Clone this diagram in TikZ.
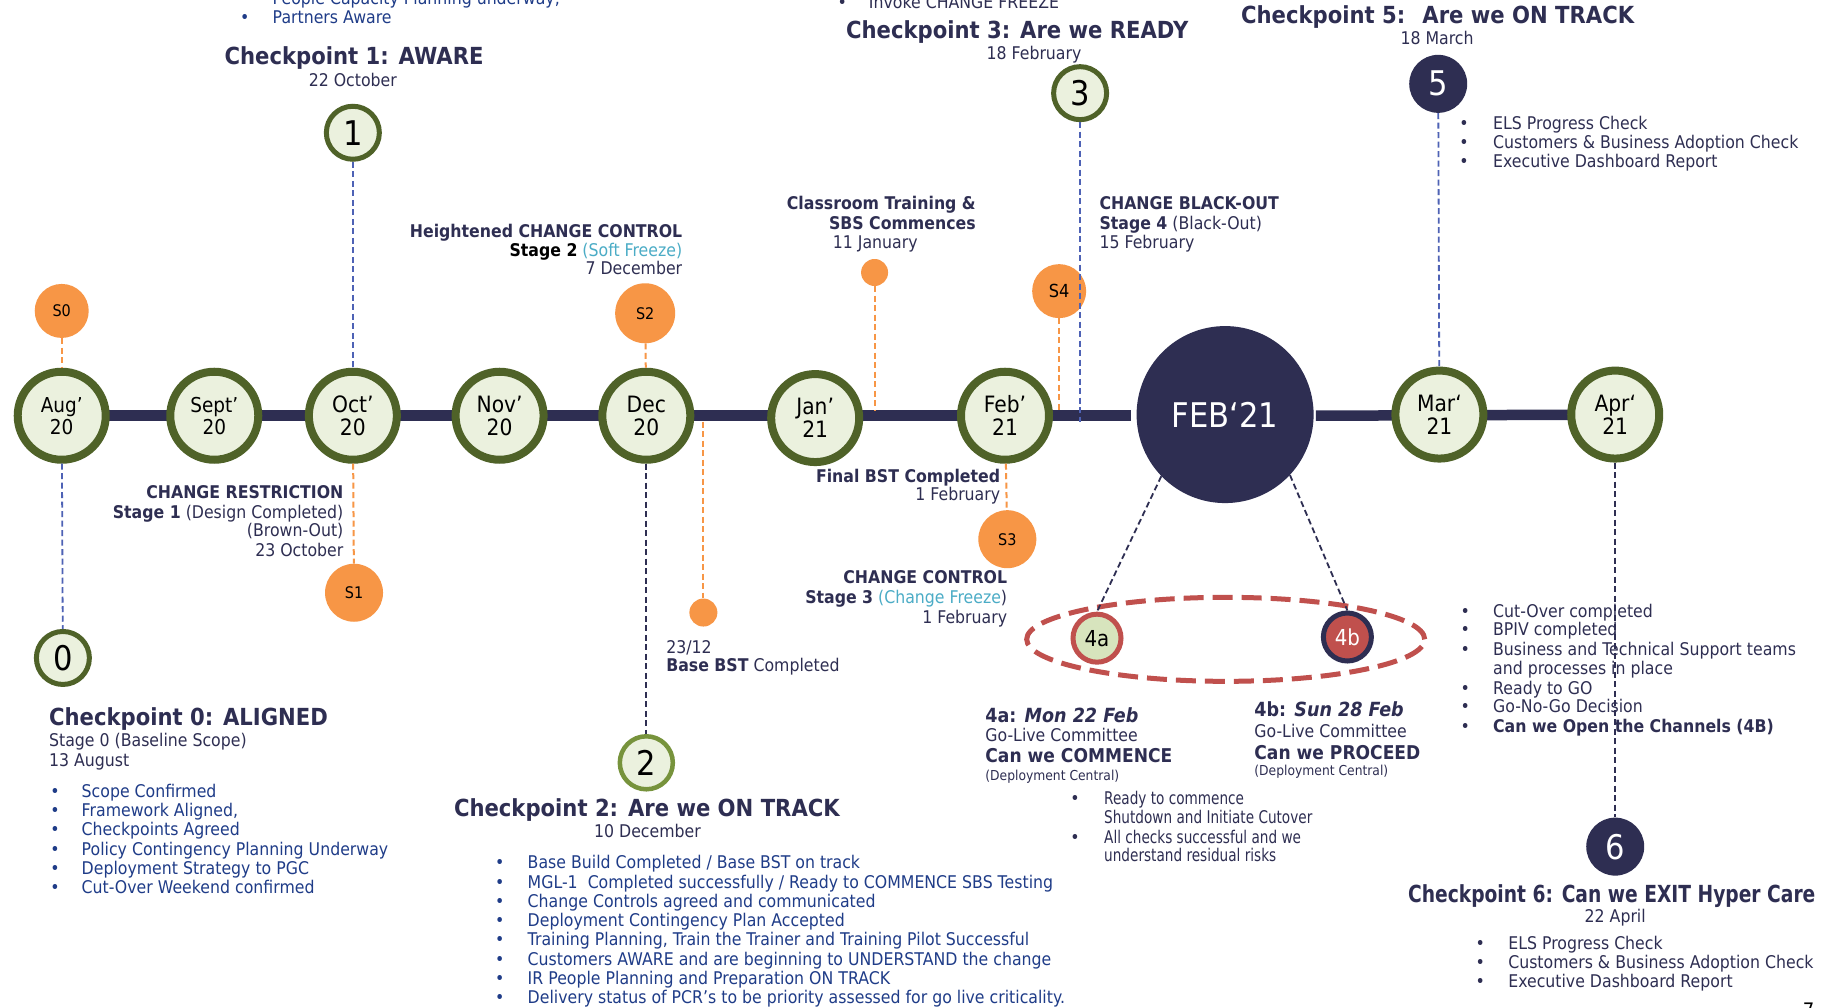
\documentclass[tikz,border=0pt]{standalone}
\usepackage{fontspec}
\usepackage{graphicx}
\setmainfont{DejaVu Sans}[FakeStretch=0.9]
\usetikzlibrary{shapes.geometric}

\definecolor{navy}{HTML}{2E2E52}
\definecolor{olive}{HTML}{4F6228}
\definecolor{paleg}{HTML}{EBF1DE}
\definecolor{orangeS}{HTML}{F79646}
\definecolor{cptwo}{HTML}{77933C}
\definecolor{redc}{HTML}{C0504D}
\definecolor{palefa}{HTML}{D7E4BD}
\definecolor{linkblue}{HTML}{4E62B5}
\definecolor{cyanc}{HTML}{4BACC6}
\definecolor{listblue}{HTML}{1F3C88}

\newcommand\hsqz[2]{\scalebox{#1}[1]{#2}}

\begin{document}
\begin{tikzpicture}[x=1.1645pt,y=-1.1645pt,
  timebar/.style={draw=navy,line width=10.5pt},
  month/.style={circle,draw=olive,line width=8pt,fill=paleg,minimum size=88pt,inner sep=0pt,
    align=center,text=black,font=\fontsize{22.5}{23}\selectfont},
  monthsm/.style={month,font=\fontsize{20.5}{22}\selectfont},
  cpgreen/.style={circle,draw=olive,line width=5pt,fill=paleg,minimum size=53pt,inner sep=0pt,
    text=black,font=\fontsize{34}{34}\selectfont},
  cpdark/.style={circle,fill=navy,minimum size=58pt,inner sep=0pt,text=white,
    font=\fontsize{34}{34}\selectfont},
  sdot/.style={circle,fill=orangeS,inner sep=0pt,text=black,font=\fontsize{16}{16}\selectfont},
  odash/.style={draw=orangeS,line width=2pt,dash pattern=on 6pt off 3.5pt},
  bdash/.style={draw=linkblue,line width=1.8pt,dash pattern=on 6pt off 3.5pt},
  ndash/.style={draw=navy,line width=1.8pt,dash pattern=on 6pt off 3.5pt},
  lbl/.style={inner sep=0pt,text=navy,font=\fontsize{17.5}{20}\selectfont},
  lblb/.style={lbl,font=\fontsize{17.5}{20}\selectfont\bfseries},
  cphead/.style={inner sep=0pt,text=navy,font=\fontsize{23.5}{28}\selectfont\bfseries},
  listtxt/.style={inner sep=0pt,anchor=base west,text=listblue,font=\fontsize{17.5}{20}\selectfont},
  navytxt/.style={listtxt,text=navy},
]
\fill[white] (0,0) rectangle (1568,865);
\useasboundingbox (0,0) rectangle (1568,865);

% month positions and the time bar behind them
\coordinate (p-aug) at (53,357);
\coordinate (p-apr) at (1387,356);
\coordinate (barL) at (971,357);
\coordinate (barR) at (1130,357);
\draw[timebar] (p-aug) -- (barL);
\draw[timebar] (barR) -- (p-apr);

% month circles
\node[monthsm] (aug) at (p-aug) {Aug’\\20};
\node[monthsm] (sept) at (184,357) {Sept’\\20};
\node[month] (oct) at (303,357) {Oct’\\20};
\node[month] (nov) at (429,357) {Nov’\\20};
\node[month] (dec) at (555,357) {Dec\\20};
\node[month] (jan) at (700,359) {Jan’\\21};
\node[month] (feb) at (863,357) {Feb’\\21};
\node[circle,fill=navy,minimum size=177pt,inner sep=0pt,text=white,
      font=\fontsize{34}{34}\selectfont] (bigfeb) at (1052,356) {FEB‘21};
\node[month] (mar) at (1236,356) {Mar‘\\21};
\node[month] (apr) at (p-apr) {Apr‘\\21};

% change-control stages
\node[sdot,minimum size=54pt] (s0) at (53,267) {S0};
\node[sdot,minimum size=58pt] (s1) at (304,509) {S1};
\node[sdot,minimum size=60pt] (s2) at (554,269) {S2};
\node[sdot,minimum size=58pt] (s3) at (865,463) {S3};
\node[sdot,minimum size=54pt,font=\fontsize{18}{18}\selectfont] (s4) at (909.5,250) {S4};
\node[sdot,minimum size=27pt] (jdot) at (751,234) {};
\node[sdot,minimum size=28pt] (ddot) at (604,526) {};

% go-live window
\node[ellipse,draw=redc,line width=5pt,dash pattern=on 20pt off 9pt,
      minimum width=398pt,minimum height=84pt,inner sep=0pt] (gozone) at (1052.5,549) {};

% checkpoints
\node[cpgreen] (cp0) at (54,565) {0};
\node[cpgreen] (cp1) at (303,114) {1};
\node[cpgreen,draw=cptwo,line width=4.5pt] (cp2) at (555,655) {2};
\node[cpgreen] (cp3) at (927.5,80) {3};
\node[cpdark] (cp5) at (1235,72) {5};
\node[cpdark] (cp6) at (1387,727) {6};
\node[circle,draw=redc,line width=5pt,fill=palefa,minimum size=48pt,inner sep=0pt,
      text=black,font=\fontsize{22}{22}\selectfont] (c4a) at (942,548) {4a};
\node[circle,draw=navy,line width=5pt,fill=redc,minimum size=48pt,inner sep=0pt,
      text=white,font=\fontsize{22}{22}\selectfont] (c4b) at (1157,547) {4b};

% connectors
\coordinate (janbar) at (751,352);
\coordinate (decbar) at (604,362);
\coordinate (s4bar) at (909.5,352);
\coordinate (cp3bar) at (927.5,362);
\draw[odash] (s0) -- (aug);
\draw[bdash] (aug) -- (cp0);
\draw[bdash] (cp1) -- (oct);
\draw[odash] (oct) -- (s1);
\draw[odash] (s2) -- (dec);
\draw[ndash] (dec) -- (cp2);
\draw[odash] (decbar) -- (ddot);
\draw[odash] (jdot) -- (janbar);
\draw[odash] (feb) -- (s3);
\draw[odash] (s4) -- (s4bar);
\draw[bdash] (cp3) -- (cp3bar);
\draw[bdash] (cp5) -- (mar);
\draw[ndash] (bigfeb.224) -- (c4a.north);
\draw[ndash] (bigfeb.317) -- (c4b.north);

% lists running off the top edge
\node[listtxt] (tpb1) at (206,3.5) {•};
\node[listtxt] (tpt1) at (234,3.5) {People Capacity Planning underway,};
\node[listtxt] (tpb2) at (206,20) {•};
\node[listtxt] (tpt2) at (234,20) {Partners Aware};
\node[navytxt] (ivb) at (719,7) {•};
\node[navytxt] (ivt) at (746,7) {Invoke CHANGE FREEZE};

% checkpoint 1
\node[cphead,anchor=base] (h1) at (304,55) {Checkpoint 1: AWARE};
\node[lbl,anchor=base] (d1) at (303,74) {22 October};

% checkpoint 3
\node[cphead,anchor=base] (h3) at (873.5,33) {Checkpoint 3: Are we READY};
\node[lbl,anchor=base west] (d3) at (847,51) {18 February};

% checkpoint 5
\node[cphead,anchor=base] (h5) at (1234.5,20) {Checkpoint 5:~ Are we ON TRACK};
\node[lbl,anchor=base] (d5) at (1234,38) {18 March};
\foreach \t [count=\i from 0] in {ELS Progress Check,Customers \& Business Adoption Check,Executive Dashboard Report}{
  \node[navytxt] (l5b\i) at (1253,{111+16.5*\i}) {•};
  \node[navytxt] (l5t\i) at (1282,{111+16.5*\i}) {\t};
}

% stage labels above the bar
\node[lblb,anchor=base east] (hc1) at (586,204) {Heightened CHANGE CONTROL};
\node[lbl,anchor=base east] (hc2) at (586,220) {{\bfseries\color{black}Stage 2} {\color{cyanc}(Soft Freeze)}};
\node[lbl,anchor=base east] (hc3) at (586,236) {7 December};
\node[lblb,anchor=base east] (ct1) at (838,180) {Classroom Training \&};
\node[lblb,anchor=base east] (ct2) at (838,197) {SBS Commences};
\node[lbl,anchor=base west] (ct3) at (715,213) {11 January};
\node[lblb,anchor=base west] (bo1) at (944,180) {CHANGE BLACK-OUT};
\node[lbl,anchor=base west] (bo2) at (944,197) {{\bfseries Stage 4} (Black-Out)};
\node[lbl,anchor=base west] (bo3) at (944,213) {15 February};

% stage labels below the bar
\node[lblb,anchor=base east] (cr1) at (295,428) {CHANGE RESTRICTION};
\node[lbl,anchor=base east] (cr2) at (295,445) {{\bfseries Stage 1} (Design Completed)};
\node[lbl,anchor=base east] (cr3) at (295,461) {(Brown-Out)};
\node[lbl,anchor=base east] (cr4) at (295,478) {23 October};
\node[lblb,anchor=base east] (fb1) at (859,414) {Final BST Completed};
\node[lbl,anchor=base east] (fb2) at (859,430) {1 February};
\node[lblb,anchor=base east] (cc1) at (865,501) {CHANGE CONTROL};
\node[lbl,anchor=base east] (cc2) at (865,518) {{\bfseries Stage 3} {\color{cyanc}(Change Freeze})};
\node[lbl,anchor=base east] (cc3) at (865,535) {1 February};
\node[lbl,anchor=base west] (bb1) at (572,561) {23/12};
\node[lbl,anchor=base west] (bb2) at (572,577) {{\bfseries Base BST} Completed};

% checkpoint 0
\node[cphead,anchor=base west] (h0) at (42,623) {Checkpoint 0: ALIGNED};
\node[lbl,anchor=base west] (g0) at (42,641) {Stage 0 (Baseline Scope)};
\node[lbl,anchor=base west] (d0) at (42,658) {13 August};
\foreach \t [count=\i from 0] in {Scope Confirmed,{Framework Aligned,},Checkpoints Agreed,Policy Contingency Planning Underway,Deployment Strategy to PGC,Cut-Over Weekend confirmed}{
  \node[listtxt] (l0b\i) at (43,{685+16.4*\i}) {•};
  \node[listtxt] (l0t\i) at (70,{685+16.4*\i}) {\t};
}

% checkpoint 2
\node[cphead,anchor=base] (h2) at (555.5,701) {Checkpoint 2: Are we ON TRACK};
\node[lbl,anchor=base] (d2) at (556,719) {10 December};
\foreach \t [count=\i from 0] in {Base Build Completed / Base BST on track,MGL-1~ Completed successfully / Ready to COMMENCE SBS Testing,Change Controls agreed and communicated,Deployment Contingency Plan Accepted,{Training Planning, Train the Trainer and Training Pilot Successful},Customers AWARE and are beginning to UNDERSTAND the change,IR People Planning and Preparation ON TRACK,Delivery status of PCR’s to be priority assessed for go live criticality.}{
  \node[listtxt] (l2b\i) at (425,{746+16.57*\i}) {•};
  \node[listtxt] (l2t\i) at (453,{746+16.57*\i}) {\t};
}

% go-live decision 4a
\node[lbl,anchor=base west,font=\fontsize{19.5}{22}\selectfont] (a1) at (846,620) {{\bfseries 4a: \itshape Mon 22 Feb}};
\node[lbl,anchor=base west] (a2) at (846,637) {Go-Live Committee};
\node[lbl,anchor=base west,font=\fontsize{19}{22}\selectfont\bfseries] (a3) at (846,655) {Can we COMMENCE};
\node[lbl,anchor=base west,font=\fontsize{13.7}{16}\selectfont] (a4) at (846,670) {(Deployment Central)};
\node[navytxt] (al1b) at (919,691) {•};
\node[navytxt] (al1) at (948,691) {\hsqz{0.865}{Ready to commence}};
\node[navytxt] (al2) at (948,707) {\hsqz{0.865}{Shutdown and Initiate Cutover}};
\node[navytxt] (al3b) at (919,724) {•};
\node[navytxt] (al3) at (948,724) {\hsqz{0.865}{All checks successful and we}};
\node[navytxt] (al4) at (948,740) {\hsqz{0.865}{understand residual risks}};

% go-live decision 4b
\node[lbl,anchor=base west,font=\fontsize{19.5}{22}\selectfont] (b1) at (1077,615) {{\bfseries 4b: \itshape Sun 28 Feb}};
\node[lbl,anchor=base west] (b2) at (1077,633) {Go-Live Committee};
\node[lbl,anchor=base west,font=\fontsize{19}{22}\selectfont\bfseries] (b3) at (1077,652) {Can we PROCEED};
\node[lbl,anchor=base west,font=\fontsize{13.7}{16}\selectfont] (b4) at (1077,666) {(Deployment Central)};

% channel opening checks
\node[navytxt] (r1b) at (1254,530) {•};
\node[navytxt] (r1) at (1282,530) {Cut-Over completed};
\node[navytxt] (r2b) at (1254,546) {•};
\node[navytxt] (r2) at (1282,546) {BPIV completed};
\node[navytxt] (r3b) at (1254,563) {•};
\node[navytxt] (r3) at (1282,563) {Business and Technical Support teams};
\node[navytxt] (r4) at (1282,579) {and processes in place};
\node[navytxt] (r5b) at (1254,596) {•};
\node[navytxt] (r5) at (1282,596) {Ready to GO};
\node[navytxt] (r6b) at (1254,612) {•};
\node[navytxt] (r6) at (1282,612) {Go-No-Go Decision};
\node[navytxt] (r7b) at (1254,629) {•};
\node[navytxt,font=\fontsize{17.5}{20}\selectfont\bfseries] (r7) at (1282,629) {Can we Open the Channels (4B)};

\draw[ndash] (apr) -- (cp6);

% checkpoint 6
\node[cphead,anchor=base] (h6) at (1384,775) {\hsqz{0.883}{Checkpoint 6: Can we EXIT Hyper Care}};
\node[lbl,anchor=base] (d6) at (1387,792) {22 April};
\foreach \t [count=\i from 0] in {ELS Progress Check,Customers \& Business Adoption Check,Executive Dashboard Report}{
  \node[navytxt] (l6b\i) at (1267,{815+16.5*\i}) {•};
  \node[navytxt] (l6t\i) at (1295,{815+16.5*\i}) {\t};
}

% page number
\node[inner sep=0pt,anchor=base west,font=\fontsize{20}{20}\selectfont] (pgno) at (1548,874) {7};
\end{tikzpicture}
\end{document}
